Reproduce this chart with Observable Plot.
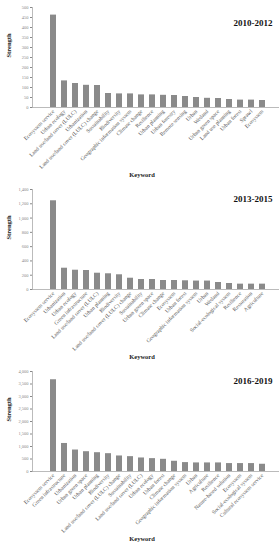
<!DOCTYPE html>
<html>
<head>
<meta charset="utf-8">
<script src="https://cdn.jsdelivr.net/npm/d3@7"></script>
<script src="https://cdn.jsdelivr.net/npm/@observablehq/plot@0.6"></script>
<style>
  html, body { margin: 0; padding: 0; background: #fff; }
  #root { width: 280px; }
  #root svg { display: block; }
</style>
</head>
<body>
<div id="root"></div>
<script>
// ---- Data ----
const periods = ["2010-2012", "2013-2015", "2016-2019"];

const keywords2010 = ["Ecosystem service", "Urban ecology", "Land use/land cover (LULC)", "Urbanization",
  "Land use/land cover (LULC) change", "Sustainability", "Biodiversity", "Geographic information system",
  "Climate change", "Resilience", "Urban planning", "Urban forestry", "Remote sensing", "Urban", "Wetland",
  "Urban green space", "Land use planning", "Urban forest", "Sprawl", "Ecosystem"];
const strength2010 = [462, 133, 120, 111, 110, 70, 68, 68, 63, 63, 61, 60, 55, 50, 46, 45, 40, 37, 37, 35];

const keywords2013 = ["Ecosystem service", "Urbanization", "Urban ecology", "Green infrastructure",
  "Land use/land cover (LULC)", "Urban planning", "Biodiversity", "Land use/land cover (LULC) change",
  "Sustainability", "Urban green space", "Climate change", "Ecosystem", "Urban forest",
  "Geographic information system", "Urban", "Wetland", "Social-ecological system", "Resilience",
  "Restoration", "Agriculture"];
const strength2013 = [1242, 298, 270, 266, 228, 220, 206, 158, 140, 140, 126, 126, 122, 118, 118, 98, 84, 75, 75, 75];

const keywords2016 = ["Ecosystem service", "Green infrastructure", "Urbanization", "Urban green space",
  "Urban planning", "Biodiversity", "Land use/land cover (LULC) change", "Sustainability",
  "Land use/land cover (LULC)", "Urban ecology", "Urban forest", "Climate change",
  "Geographic information system", "Urban", "Agriculture", "Resilience", "Nature-based solution",
  "Ecosystem", "Social-ecological system", "Cultural ecosystem service"];
const strength2016 = [3670, 1121, 859, 792, 752, 713, 621, 594, 541, 515, 488, 409, 356, 343, 343, 343, 317, 317, 317, 290];

const yMax = [500, 1400, 4000];
const yStep = [50, 200, 500];

// ---- Drawing ----
const panels = [
  {title: periods[0], cats: keywords2010, vals: strength2010, titleDy: 12},
  {title: periods[1], cats: keywords2013, vals: strength2013, titleDy: 6},
  {title: periods[2], cats: keywords2016, vals: strength2016, titleDy: 6}
];

const root = document.getElementById("root");
const serif = "'Liberation Serif', 'Times New Roman', serif";

panels.forEach((p, i) => {
  const data = p.cats.map((k, j) => ({k, v: p.vals[j]}));
  const chart = Plot.plot({
    width: 280,
    height: i === 2 ? 186 : 182,
    marginLeft: 32,
    marginRight: 1,
    marginTop: 7,
    marginBottom: i === 2 ? 79 : 75,
    style: {fontFamily: serif, background: "#fff", overflow: "visible"},
    x: {domain: p.cats, padding: 0.5, insetLeft: 3.4, label: null},
    y: {domain: [0, yMax[i]], label: null},
    marks: [
      Plot.barY(data, {x: "k", y: "v", fill: "#8a8a8a"}),
      Plot.ruleY([0], {stroke: "#aaa", strokeWidth: 0.8}),
      Plot.frame({anchor: "left", stroke: "#aaa", strokeWidth: 0.8}),
      Plot.axisY({
        ticks: d3.range(0, yMax[i] + 1, yStep[i]),
        tickFormat: d3.format(","),
        tickSize: 2,
        tickPadding: 2,
        fontSize: 4.5,
        color: "#888",
        label: null
      }),
      Plot.axisX({
        tickRotate: -45,
        tickSize: 0,
        tickPadding: 3,
        fontSize: 5.5,
        color: "#555",
        label: null
      }),
      Plot.text([p.title], {
        frameAnchor: "top-right", textAnchor: "end", dx: -7, dy: p.titleDy,
        fontSize: 9, fontWeight: "bold", fill: "#111"
      }),
      Plot.text(["Strength"], {
        frameAnchor: "left", rotate: -90, dx: -24,
        fontSize: 6.5, fontWeight: "bold", fill: "#222"
      }),
      Plot.text(["Keyword"], {
        frameAnchor: "bottom", dx: -14, dy: 69,
        fontSize: 6.5, fontWeight: "bold", fill: "#222"
      })
    ]
  });
  root.appendChild(chart);
});
</script>
</body>
</html>
